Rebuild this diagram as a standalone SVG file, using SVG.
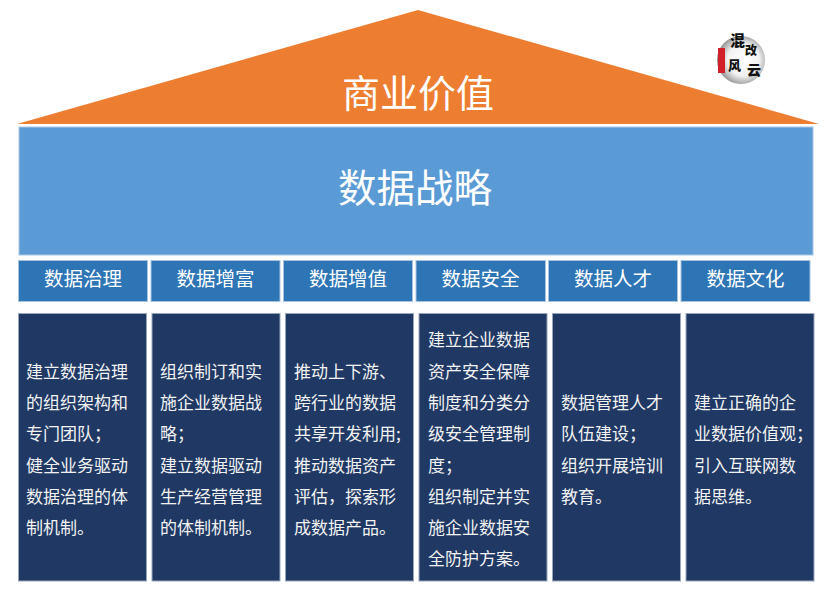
<svg xmlns="http://www.w3.org/2000/svg" width="825" height="595" viewBox="0 0 825 595">
<defs><style>
text{font-family:"Noto Sans CJK SC","Noto Sans",sans-serif;fill:#fff}
.h{fill:#2e75b6;stroke:#a9c4e0;stroke-width:1}
.b{fill:#1f3864;stroke:#9aa6bc;stroke-width:1}
.ht{font-size:19.500px;text-anchor:middle}
.bt{font-size:17px;fill:#f2f2f2}
.lg{font-family:"Noto Sans CJK SC",serif;font-weight:900;fill:#111}
</style>
<radialGradient id="ink" cx="0.55" cy="0.5" r="0.55"><stop offset="0" stop-color="#fff"/><stop offset="0.6" stop-color="#f2f2f2"/><stop offset="0.85" stop-color="#b5b5b5"/><stop offset="1" stop-color="#8c8c8c"/></radialGradient>
</defs>
<rect width="825" height="595" fill="#fff"/>
<g id="roof"><polygon points="418,10 819,124 17,124" fill="#ed7d31"/><text x="418" y="107" font-size="38" text-anchor="middle">商业价值</text></g>
<g id="strategy"><rect x="19" y="127" width="794" height="128" fill="#5b9bd5" stroke="#a9c8e8"/><text x="415" y="202" font-size="38.500" text-anchor="middle">数据战略</text></g>
<g id="logo"><circle cx="741" cy="60" r="24" fill="url(#ink)"/><rect x="718" y="48" width="7" height="25" fill="#d2202a"/>
<text class="lg" x="730" y="46" font-size="15">混</text><text class="lg" x="745" y="55" font-size="12">改</text><text class="lg" x="728" y="70" font-size="13">风</text><text class="lg" x="747" y="75" font-size="14">云</text></g>
<g id="h1"><rect class="h" x="18.500" y="260.500" width="129" height="41"/><text class="ht" x="83" y="286">数据治理</text></g>
<g id="h2"><rect class="h" x="151" y="260.500" width="129" height="41"/><text class="ht" x="215.500" y="286">数据增富</text></g>
<g id="h3"><rect class="h" x="283.500" y="260.500" width="129" height="41"/><text class="ht" x="348" y="286">数据增值</text></g>
<g id="h4"><rect class="h" x="416" y="260.500" width="129.500" height="41"/><text class="ht" x="480.500" y="286">数据安全</text></g>
<g id="h5"><rect class="h" x="548.500" y="260.500" width="129" height="41"/><text class="ht" x="613" y="286">数据人才</text></g>
<g id="h6"><rect class="h" x="681" y="260.500" width="129" height="41"/><text class="ht" x="745.500" y="286">数据文化</text></g>
<g id="b1"><rect class="b" x="18.500" y="313.500" width="128" height="267.500"/><text class="bt" x="26" y="378">建立数据治理</text><text class="bt" x="26" y="409">的组织架构和</text><text class="bt" x="26" y="440">专门团队；</text><text class="bt" x="26" y="472">健全业务驱动</text><text class="bt" x="26" y="503">数据治理的体</text><text class="bt" x="26" y="534">制机制。</text></g>
<g id="b2"><rect class="b" x="152" y="313.500" width="128" height="267.500"/><text class="bt" x="160" y="378">组织制订和实</text><text class="bt" x="160" y="409">施企业数据战</text><text class="bt" x="160" y="440">略；</text><text class="bt" x="160" y="472">建立数据驱动</text><text class="bt" x="160" y="503">生产经营管理</text><text class="bt" x="160" y="534">的体制机制。</text></g>
<g id="b3"><rect class="b" x="285.500" y="313.500" width="128" height="267.500"/><text class="bt" x="294" y="378">推动上下游、</text><text class="bt" x="294" y="409">跨行业的数据</text><text class="bt" x="294" y="440">共享开发利用;</text><text class="bt" x="294" y="472">推动数据资产</text><text class="bt" x="294" y="503">评估，探索形</text><text class="bt" x="294" y="534">成数据产品。</text></g>
<g id="b4"><rect class="b" x="419" y="313.500" width="128" height="267.500"/><text class="bt" x="428" y="346">建立企业数据</text><text class="bt" x="428" y="378">资产安全保障</text><text class="bt" x="428" y="409">制度和分类分</text><text class="bt" x="428" y="440">级安全管理制</text><text class="bt" x="428" y="472">度；</text><text class="bt" x="428" y="503">组织制定并实</text><text class="bt" x="428" y="534">施企业数据安</text><text class="bt" x="428" y="565">全防护方案。</text></g>
<g id="b5"><rect class="b" x="552.500" y="313.500" width="128" height="267.500"/><text class="bt" x="561" y="409">数据管理人才</text><text class="bt" x="561" y="440">队伍建设；</text><text class="bt" x="561" y="472">组织开展培训</text><text class="bt" x="561" y="503">教育。</text></g>
<g id="b6"><rect class="b" x="686" y="313.500" width="128" height="267.500"/><text class="bt" x="694" y="409">建立正确的企</text><text class="bt" x="694" y="440">业数据价值观；</text><text class="bt" x="694" y="472">引入互联网数</text><text class="bt" x="694" y="503">据思维。</text></g>
</svg>
